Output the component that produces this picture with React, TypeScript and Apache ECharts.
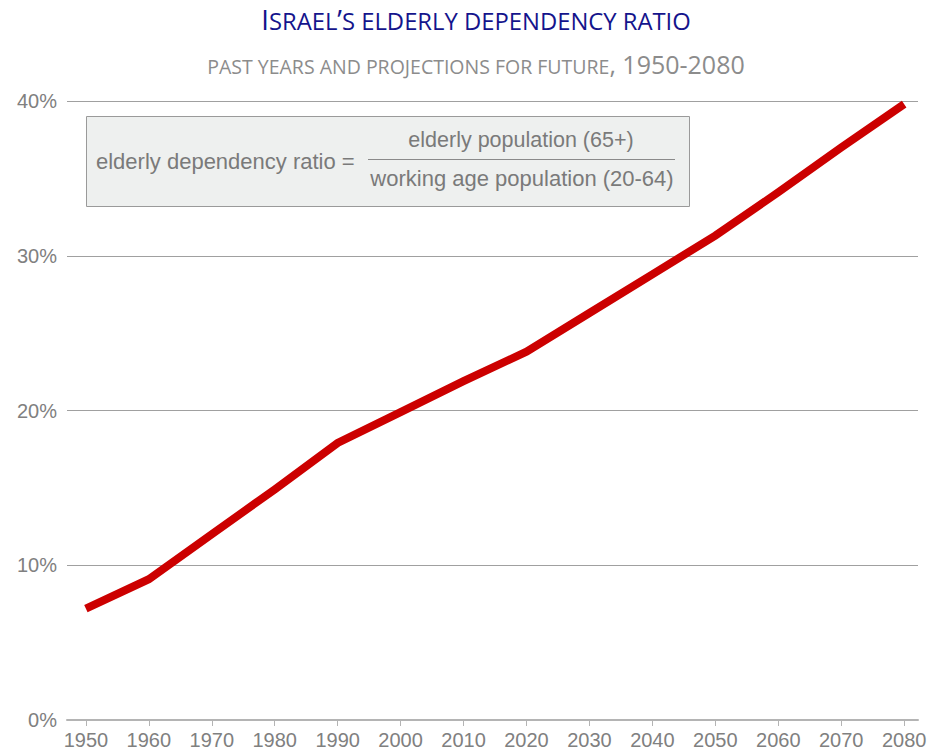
import React, { useEffect, useRef } from "react";
import * as echarts from "echarts";

const years = [1950, 1960, 1970, 1980, 1990, 2000, 2010, 2020, 2030, 2040, 2050, 2060, 2070, 2080];
const ratio = [7.2, 9.1, 12.0, 14.9, 17.9, 19.9, 21.9, 23.8, 26.3, 28.8, 31.3, 34.1, 37.0, 39.8];
const yTicks = [0, 10, 20, 30, 40];
const titleParts = [
  { t: "I", big: true },
  { t: "SRAEL", big: false },
  { t: "’", big: true },
  { t: "S ELDERLY DEPENDENCY RATIO", big: false },
];
const subtitleText = "{s|PAST YEARS AND PROJECTIONS FOR FUTURE}{b|, 1950-2080}";
const formulaLeft = "elderly dependency ratio =";
const formulaTop = "elderly population (65+)";
const formulaBottom = "working age population (20-64)";

export default function App() {
  const ref = useRef<HTMLDivElement>(null);
  useEffect(() => {
    document.body.style.margin = "0";
    const chart = echarts.init(ref.current!, null, { renderer: "svg" });
    const gray = "#808080";
    const titleFont = "'Open Sans', 'Noto Sans', sans-serif";
    const axisFont = "'Liberation Sans', Arial, sans-serif";

    // title built from small-caps pieces on one baseline
    const bigSize = 27.5;
    const smallSize = 23.8;
    const baseline = 29.8;
    const ctx = document.createElement("canvas").getContext("2d")!;
    const widths = titleParts.map((p) => {
      ctx.font = `${p.big ? bigSize : smallSize}px ${titleFont}`;
      return ctx.measureText(p.t).width;
    });
    const total = widths.reduce((a, b) => a + b, 0);
    let cursor = 476 - total / 2;
    const titleGraphics = titleParts.map((p, i) => {
      const fs = p.big ? bigSize : smallSize;
      const el = {
        type: "text",
        x: cursor,
        y: baseline - 0.388 * fs,
        style: {
          text: p.t,
          fill: "#14148c",
          font: `${fs}px ${titleFont}`,
          textAlign: "left",
          textVerticalAlign: "middle",
        },
      };
      cursor += widths[i];
      return el;
    });

    chart.setOption({
      animation: false,
      backgroundColor: "#ffffff",
      grid: { left: 67, right: 18, top: 101, bottom: 30, containLabel: false },
      xAxis: {
        type: "value",
        min: 1947,
        max: 2082.2,
        splitLine: { show: false },
        axisLine: { show: true, lineStyle: { color: "#b4b4b4", width: 2 } },
        axisTick: { show: true, length: 6, lineStyle: { color: "#b4b4b4", width: 1 }, customValues: years },
        axisLabel: {
          customValues: years,
          formatter: (v: number) => String(v),
          color: gray,
          fontSize: 20,
          fontFamily: axisFont,
          margin: 10,
        },
      },
      yAxis: {
        type: "value",
        min: yTicks[0],
        max: yTicks[yTicks.length - 1],
        interval: 10,
        axisLine: { show: false },
        axisTick: { show: false },
        splitLine: { lineStyle: { color: "#a0a0a0", width: 1 } },
        axisLabel: {
          formatter: "{value}%",
          color: gray,
          fontSize: 20,
          fontFamily: axisFont,
          margin: 10,
        },
      },
      series: [
        {
          type: "line",
          data: years.map((y, i) => [y, ratio[i]]),
          symbol: "none",
          lineStyle: { color: "#cc0000", width: 8, cap: "butt", join: "miter" },
          z: 5,
        },
      ],
      graphic: [
        ...titleGraphics,
        {
          type: "text",
          x: 476,
          y: 76,
          style: {
            text: subtitleText,
            textAlign: "center",
            textVerticalAlign: "bottom",
            rich: {
              s: { fontFamily: titleFont, fontSize: 19.5, fill: "#8c8c8c", verticalAlign: "bottom", lineHeight: 28 },
              b: { fontFamily: titleFont, fontSize: 25, fill: "#8c8c8c", verticalAlign: "bottom", lineHeight: 32 },
            },
          },
        },
        {
          type: "rect",
          shape: { x: 86.5, y: 116.5, width: 603, height: 90 },
          style: { fill: "#eef0ef", stroke: "#9a9a9a", lineWidth: 1 },
          z: 10,
        },
        {
          type: "text",
          x: 96,
          y: 161,
          style: { text: formulaLeft, fill: "#7a7a7a", font: `22px ${axisFont}`, textVerticalAlign: "middle" },
          z: 11,
        },
        {
          type: "line",
          shape: { x1: 368, y1: 159.5, x2: 675, y2: 159.5 },
          style: { stroke: "#8a8a8a", lineWidth: 1 },
          z: 11,
        },
        {
          type: "text",
          x: 521,
          y: 140,
          style: { text: formulaTop, fill: "#7a7a7a", font: `21.5px ${axisFont}`, textAlign: "center", textVerticalAlign: "middle" },
          z: 11,
        },
        {
          type: "text",
          x: 522,
          y: 178,
          style: { text: formulaBottom, fill: "#7a7a7a", font: `22px ${axisFont}`, textAlign: "center", textVerticalAlign: "middle" },
          z: 11,
        },
      ],
    });
    return () => chart.dispose();
  }, []);
  return <div ref={ref} style={{ width: 936, height: 750 }} />;
}
